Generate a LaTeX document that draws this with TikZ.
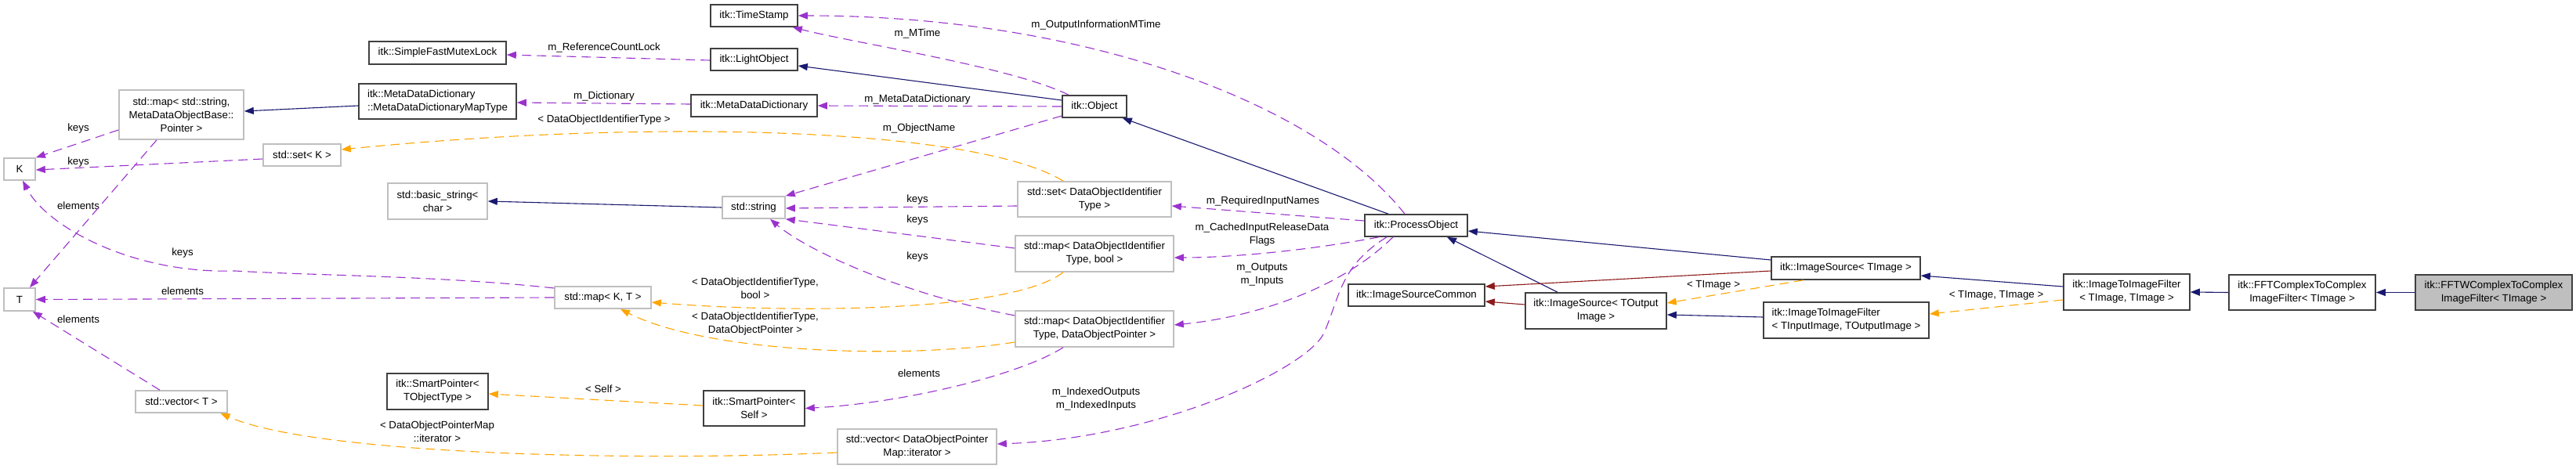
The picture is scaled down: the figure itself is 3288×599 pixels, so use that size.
\documentclass[tikz,border=0pt]{standalone}
\usepackage{fontspec}
\setmainfont{Liberation Sans}
\usetikzlibrary{arrows.meta}
\definecolor{edgeblue}{HTML}{191970}
\definecolor{edgepurple}{HTML}{9A32CD}
\definecolor{edgeorange}{HTML}{FFA500}
\definecolor{edgered}{HTML}{8B1A1A}
\definecolor{boxgray}{HTML}{BFBFBF}
\definecolor{boxdark}{HTML}{404040}
\begin{document}
\begin{tikzpicture}[x=1pt,y=-1pt,
  every node/.style={font=\fontsize{13.3}{17}\selectfont},
  nd/.style={draw=boxdark, line width=1.6pt, inner sep=0pt, align=center, fill=white},
  ext/.style={nd, draw=boxgray},
  lbl/.style={inner sep=0pt, align=center},
  tip/.style={-{Triangle[length=12pt,width=9pt]}},
  inh/.style={tip, draw=edgeblue, line width=1.1pt},
  priv/.style={tip, draw=edgered, line width=1.1pt},
  usage/.style={tip, draw=edgepurple, line width=1.1pt, dash pattern=on 12pt off 7pt},
  tmpl/.style={tip, draw=edgeorange, line width=1.1pt, dash pattern=on 12pt off 7pt}
]
\useasboundingbox[fill=white] (0,0) rectangle (3288,599);

% nodes
\node[ext, minimum width=40, minimum height=28] (K) at (25,216) {K};
\node[ext, minimum width=159, minimum height=63] (mapStr) at (231.5,146.5) {std::map\char60{} std::string,\\MetaDataObjectBase::\\Pointer \char62};
\node[ext, minimum width=99, minimum height=28] (setK) at (385.5,198) {std::set\char60{} K \char62};
\node[nd, minimum width=175, minimum height=29] (SFML) at (558.5,67.5) {itk::SimpleFastMutexLock};
\node[nd, align=left, minimum width=201, minimum height=45] (MapType) at (558.5,129.5) {itk::MetaDataDictionary\\::MetaDataDictionaryMapType};
\node[ext, minimum width=127, minimum height=46] (basicStr) at (558.5,257) {std::basic\_string\char60\\char \char62};
\node[ext, minimum width=40, minimum height=29] (T) at (25,382.5) {T};
\node[ext, minimum width=117, minimum height=28] (vecT) at (231.5,513) {std::vector\char60{} T \char62};
\node[nd, minimum width=129, minimum height=46] (SPT) at (558.5,500) {itk::SmartPointer\char60\\TObjectType \char62};
\node[nd, minimum width=111, minimum height=28] (TS) at (962.5,20) {itk::TimeStamp};
\node[nd, minimum width=111, minimum height=28] (LO) at (962.5,76) {itk::LightObject};
\node[nd, minimum width=161, minimum height=28] (MDD) at (962.5,135) {itk::MetaDataDictionary};
\node[ext, minimum width=80, minimum height=28] (string) at (962,265) {std::string};
\node[ext, minimum width=123, minimum height=28] (mapKT) at (769.5,380) {std::map\char60{} K, T \char62};
\node[nd, minimum width=129, minimum height=45] (SPSelf) at (962.5,521.5) {itk::SmartPointer\char60\\Self \char62};
\node[nd, minimum width=82, minimum height=28] (Obj) at (1397,136) {itk::Object};
\node[ext, minimum width=196, minimum height=45] (setDOIT) at (1397,254.5) {std::set\char60{} DataObjectIdentifier\\Type \char62};
\node[ext, minimum width=202, minimum height=46] (mapBool) at (1397,324) {std::map\char60{} DataObjectIdentifier\\Type, bool \char62};
\node[ext, minimum width=202, minimum height=46] (mapDOP) at (1397,420) {std::map\char60{} DataObjectIdentifier\\Type, DataObjectPointer \char62};
\node[ext, minimum width=203, minimum height=45] (vecDOP) at (1170.5,570.5) {std::vector\char60{} DataObjectPointer\\Map::iterator \char62};
\node[nd, minimum width=131, minimum height=28] (PO) at (1807.5,288) {itk::ProcessObject};
\node[nd, minimum width=174, minimum height=28] (ISC) at (1808,377) {itk::ImageSourceCommon};
\node[nd, minimum width=180, minimum height=46] (ISTO) at (2037,397) {itk::ImageSource\char60{} TOutput\\Image \char62};
\node[nd, minimum width=190, minimum height=29] (IST) at (2356,342.5) {itk::ImageSource\char60{} TImage \char62};
\node[nd, align=left, minimum width=211, minimum height=46] (ITIFIO) at (2356.5,409) {itk::ImageToImageFilter\\\char60{} TInputImage, TOutputImage \char62};
\node[nd, minimum width=161, minimum height=46] (ITIFT) at (2714.5,373) {itk::ImageToImageFilter\\\char60{} TImage, TImage \char62};
\node[nd, minimum width=187, minimum height=45] (FFT) at (2938.5,373.5) {itk::FFTComplexToComplex\\ImageFilter\char60{} TImage \char62};
\node[nd, fill=boxgray, minimum width=200, minimum height=45] (FFTW) at (3183,373.5) {itk::FFTWComplexToComplex\\ImageFilter\char60{} TImage \char62};

% labels
\node[lbl] (lOIM) at (1399,32) {m\_OutputInformationMTime};
\node[lbl] (lMT) at (1171,43) {m\_MTime};
\node[lbl] (lRCL) at (771,61) {m\_ReferenceCountLock};
\node[lbl] (lMDD) at (1171,127) {m\_MetaDataDictionary};
\node[lbl] (lDict) at (771,123) {m\_Dictionary};
\node[lbl] (lDOIT) at (771,153) {\char60{} DataObjectIdentifierType \char62};
\node[lbl] (lON) at (1173,164) {m\_ObjectName};
\node[lbl] (lk1) at (1171,255) {keys};
\node[lbl] (lk2) at (1171,281) {keys};
\node[lbl] (lk3) at (1171,328) {keys};
\node[lbl] (lRIN) at (1612,257) {m\_RequiredInputNames};
\node[lbl] (lCIR) at (1611,300) {m\_CachedInputReleaseData\\Flags};
\node[lbl] (lOI) at (1611,351) {m\_Outputs\\m\_Inputs};
\node[lbl] (lIOI) at (1399,510) {m\_IndexedOutputs\\m\_IndexedInputs};
\node[lbl] (lDB) at (964,368) {\char60{} DataObjectIdentifierType,\\bool \char62};
\node[lbl] (lDP) at (964,414) {\char60{} DataObjectIdentifierType,\\DataObjectPointer \char62};
\node[lbl] (lel1) at (1173,477) {elements};
\node[lbl] (lSelf) at (770,497) {\char60{} Self \char62};
\node[lbl] (lIter) at (558,551) {\char60{} DataObjectPointerMap\\::iterator \char62};
\node[lbl] (lk4) at (233,323) {keys};
\node[lbl] (lel2) at (233,372) {elements};
\node[lbl] (lel3) at (100,408) {elements};
\node[lbl] (lel4) at (100,263) {elements};
\node[lbl] (lk5) at (100,164) {keys};
\node[lbl] (lk6) at (100,207) {keys};
\node[lbl] (lTI) at (2187,364) {\char60{} TImage \char62};
\node[lbl] (lTT) at (2548,377) {\char60{} TImage, TImage \char62};

% inheritance edges
\draw[inh] (FFTW.west) -- (FFT.east);
\draw[inh] (FFT.west) -- (ITIFT.east);
\draw[inh] ([yshift=7pt]ITIFT.west) -- ([yshift=-9.5pt]IST.east);
\draw[inh] ([yshift=10.5pt]IST.west) -- ([yshift=-7pt]PO.east);
\draw[inh] ([yshift=4pt]ITIFIO.west) -- ([yshift=-5pt]ISTO.east);
\draw[inh] ([xshift=-49pt]ISTO.north) -- ([xshift=39.5pt]PO.south);
\draw[inh] ([xshift=-35.5pt]PO.north) -- ([xshift=-6pt]Obj.south east);
\draw[inh] ([yshift=8pt]Obj.west) -- ([yshift=-8pt]LO.east);
\draw[inh] ([yshift=-5.5pt]MapType.west) -- ([yshift=4.5pt]mapStr.east);
\draw[inh] (string.west) -- (basicStr.east);
\draw[priv] ([yshift=-3.5pt]IST.west) -- ([yshift=11pt]ISC.east);
\draw[priv] ([yshift=8pt]ISTO.west) -- ([yshift=-8pt]ISC.east);

% template edges
\draw[tmpl] ([yshift=-10pt]ITIFT.west) -- ([yshift=8pt]ITIFIO.east);
\draw[tmpl] ([xshift=-54pt]IST.south) -- ([yshift=10pt]ISTO.east);
\draw[tmpl] ([xshift=-40pt]mapBool.south) .. controls (1290,400) and (1000,400) .. ([yshift=-6pt]mapKT.east);
\draw[tmpl] ([yshift=-17pt]mapDOP.west) .. controls (1150,460) and (900,450) .. ([xshift=22.5pt]mapKT.south);
\draw[tmpl] ([yshift=3.5pt]SPSelf.west) -- ([yshift=-3pt]SPT.east);
\draw[tmpl] ([yshift=-7.5pt]vecDOP.west) .. controls (800,590) and (400,580) .. ([xshift=50pt]vecT.south);
\draw[tmpl] ([xshift=-40pt]setDOIT.north) .. controls (1250,165) and (850,150) .. ([yshift=7pt]setK.east);

% usage edges
\draw[usage] ([xshift=-14.5pt]PO.north) .. controls (1680,130) and (1380,20) .. (TS.east);
\draw[usage] ([xshift=-33pt]Obj.north) .. controls (1290,85) and (1090,55) .. ([xshift=-7pt]TS.south east);
\draw[usage] ([yshift=-1pt]LO.west) -- ([yshift=-2.5pt]SFML.east);
\draw[usage] (Obj.west) -- (MDD.east);
\draw[usage] ([yshift=2pt]MDD.west) -- ([yshift=-1.5pt]MapType.east);
\draw[usage] ([yshift=-12pt]Obj.west) -- (string.north east);
\draw[usage] ([yshift=-8.5pt]setDOIT.west) -- ([yshift=-1pt]string.east);
\draw[usage] ([yshift=7pt]mapBool.west) -- (string.south east);
\draw[usage] ([yshift=17pt]mapDOP.west) .. controls (1150,375) and (1030,320) .. ([xshift=21pt]string.south);
\draw[usage] ([yshift=6pt]PO.west) -- ([yshift=-8.5pt]setDOIT.east);
\draw[usage] ([xshift=-47.5pt]PO.south) .. controls (1680,318) and (1580,329) .. ([yshift=-5pt]mapBool.east);
\draw[usage] ([xshift=-29.5pt]PO.south) .. controls (1710,370) and (1600,405) .. ([yshift=5pt]mapDOP.east);
\draw[usage] ([xshift=-37.5pt]PO.south) .. controls (1710,340) and (1710,380) .. (1690,425)
   .. controls (1670,470) and (1480,560) .. ([yshift=3.5pt]vecDOP.east);
\draw[usage] ([xshift=-40pt]mapDOP.south) .. controls (1300,480) and (1150,515) .. (SPSelf.east);
\draw[usage] ([yshift=12pt]mapKT.west) .. controls (560,352) and (400,352) .. (300,346)
   .. controls (170,350) and (60,290) .. ([xshift=4pt]K.south);
\draw[usage] (mapKT.west) -- (T.east);
\draw[usage] ([xshift=-27.5pt]vecT.north) -- ([xshift=-4pt]T.south east);
\draw[usage] ([xshift=-31.5pt]mapStr.south) -- ([xshift=13pt]T.north);
\draw[usage] ([yshift=-19.5pt]mapStr.west) -- (K.north east);
\draw[usage] ([yshift=-5pt]setK.west) -- ([yshift=-1pt]K.east);
\end{tikzpicture}
\end{document}
